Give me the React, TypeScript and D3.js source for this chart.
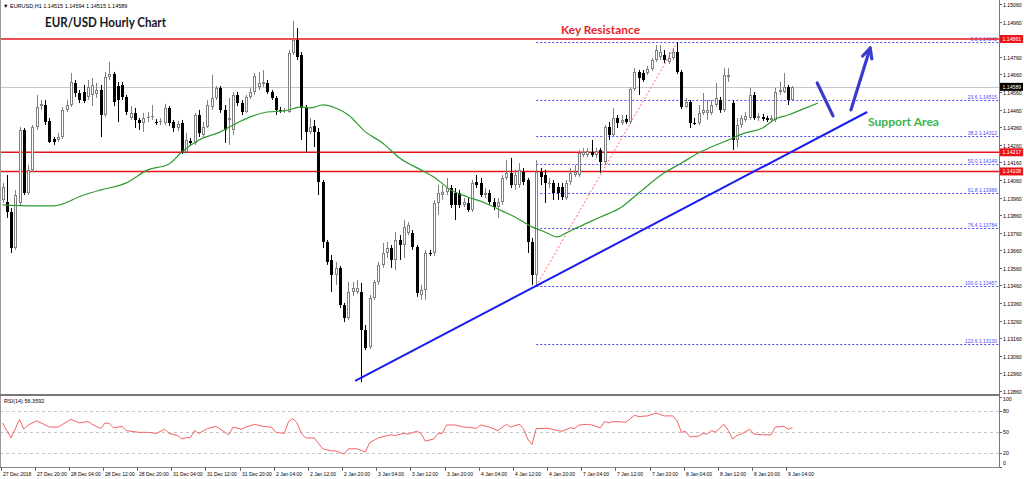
import React from "react";
import * as d3 from "d3";

const W = 1024;
const H = 479;

// ---------- candle data (EURUSD H1, bar 0 = 27 Dec 2018 12:00) ----------
const candleOpen = [
  1.13946,1.13935,1.13878,1.13673,1.13929,1.14344,1.13986,1.14117,1.14361,1.14480,
  1.14486,1.14395,1.14293,1.14287,1.14304,1.14458,1.14486,1.14611,1.14554,1.14560,
  1.14532,1.14543,1.14549,1.14571,1.14429,1.14645,1.14662,1.14594,1.14600,1.14532,
  1.14412,1.14441,1.14401,1.14384,1.14412,1.14418,1.14389,1.14389,1.14384,1.14469,
  1.14389,1.14355,1.14384,1.14219,1.14281,1.14270,1.14429,1.14316,1.14361,1.14475,
  1.14526,1.14583,1.14458,1.14401,1.14344,1.14543,1.14497,1.14446,1.14532,1.14560,
  1.14588,1.14605,1.14611,1.14560,1.14526,1.14458,1.14452,1.14446,1.14782,1.14856,
  1.14770,1.14469,1.14333,1.14367,1.14333,1.14048,1.13707,1.13605,1.13520,1.13560,
  1.13349,1.13275,1.13423,1.13423,1.13423,1.13207,1.13110,1.13389,1.13480,1.13577,
  1.13645,1.13673,1.13605,1.13719,1.13690,1.13758,1.13758,1.13679,1.13406,1.13434,
  1.13645,1.13645,1.13929,1.13974,1.13992,1.14014,1.13986,1.13986,1.13918,1.13929,
  1.13889,1.14048,1.14043,1.13974,1.13986,1.13935,1.13906,1.13935,1.14071,1.14100,
  1.14031,1.14031,1.14105,1.14060,1.13707,1.13520,1.14105,1.14088,1.14037,1.14043,
  1.14020,1.14020,1.13957,1.14048,1.14088,1.14088,1.14202,1.14202,1.14219,1.14202,
  1.14230,1.14162,1.14361,1.14316,1.14412,1.14384,1.14406,1.14389,1.14577,1.14674,
  1.14668,1.14668,1.14691,1.14742,1.14759,1.14770,1.14731,1.14753,1.14787,1.14674,
  1.14475,1.14503,1.14384,1.14384,1.14441,1.14441,1.14441,1.14486,1.14514,1.14458,
  1.14645,1.14497,1.14287,1.14372,1.14401,1.14412,1.14543,1.14412,1.14418,1.14412,
  1.14401,1.14401,1.14560,1.14560,1.14588,1.14515,
];
const candleHigh = [
  1.14043,1.14088,1.13901,1.14003,1.14361,1.14355,1.14145,1.14372,1.14543,1.14514,
  1.14514,1.14412,1.14304,1.14327,1.14475,1.14514,1.14668,1.14628,1.14571,1.14600,
  1.14628,1.14640,1.14611,1.14600,1.14674,1.14731,1.14674,1.14617,1.14617,1.14543,
  1.14480,1.14469,1.14412,1.14441,1.14446,1.14486,1.14406,1.14412,1.14492,1.14480,
  1.14401,1.14395,1.14401,1.14327,1.14298,1.14441,1.14458,1.14389,1.14514,1.14657,
  1.14594,1.14594,1.14486,1.14526,1.14560,1.14560,1.14514,1.14543,1.14583,1.14668,
  1.14674,1.14685,1.14628,1.14571,1.14537,1.14475,1.14469,1.14799,1.14964,1.14924,
  1.14787,1.14486,1.14412,1.14401,1.14355,1.14060,1.13719,1.13633,1.13594,1.13571,
  1.13361,1.13480,1.13480,1.13491,1.13474,1.13235,1.13406,1.13491,1.13594,1.13702,
  1.13707,1.13690,1.13764,1.13747,1.13832,1.13821,1.13775,1.13690,1.13463,1.13662,
  1.13662,1.13946,1.14031,1.14031,1.14071,1.14031,1.14014,1.14003,1.13957,1.13957,
  1.14060,1.14088,1.14071,1.14014,1.14003,1.13957,1.13957,1.14088,1.14173,1.14185,
  1.14117,1.14156,1.14128,1.14071,1.13730,1.14173,1.14128,1.14117,1.14071,1.14060,
  1.14043,1.14043,1.14060,1.14128,1.14145,1.14230,1.14242,1.14242,1.14287,1.14242,
  1.14242,1.14372,1.14389,1.14469,1.14429,1.14429,1.14429,1.14588,1.14696,1.14685,
  1.14685,1.14708,1.14753,1.14827,1.14827,1.14799,1.14787,1.14810,1.14842,1.14685,
  1.14526,1.14514,1.14412,1.14486,1.14554,1.14514,1.14514,1.14611,1.14532,1.14696,
  1.14696,1.14514,1.14412,1.14429,1.14446,1.14583,1.14560,1.14441,1.14435,1.14424,
  1.14429,1.14583,1.14617,1.14668,1.14600,1.14594,
];
const candleLow = [
  1.13929,1.13844,1.13645,1.13662,1.13918,1.13974,1.13974,1.14105,1.14344,1.14458,
  1.14372,1.14270,1.14259,1.14276,1.14293,1.14446,1.14475,1.14532,1.14497,1.14497,
  1.14514,1.14480,1.14526,1.14304,1.14418,1.14628,1.14480,1.14389,1.14514,1.14429,
  1.14401,1.14355,1.14344,1.14333,1.14389,1.14401,1.14372,1.14372,1.14372,1.14367,
  1.14333,1.14338,1.14208,1.14213,1.14259,1.14259,1.14304,1.14304,1.14355,1.14458,
  1.14514,1.14441,1.14270,1.14259,1.14316,1.14480,1.14429,1.14441,1.14520,1.14543,
  1.14571,1.14588,1.14549,1.14514,1.14429,1.14441,1.14441,1.14441,1.14770,1.14742,
  1.14287,1.14219,1.14321,1.14247,1.13974,1.13673,1.13577,1.13423,1.13463,1.13332,
  1.13252,1.13264,1.13400,1.13412,1.12911,1.13093,1.13099,1.13378,1.13463,1.13560,
  1.13616,1.13560,1.13548,1.13605,1.13616,1.13747,1.13662,1.13395,1.13378,1.13378,
  1.13628,1.13628,1.13861,1.13946,1.13974,1.13901,1.13832,1.13901,1.13906,1.13878,
  1.13878,1.14014,1.13963,1.13957,1.13918,1.13889,1.13844,1.13918,1.14060,1.14014,
  1.14003,1.14014,1.14031,1.13645,1.13463,1.13457,1.14031,1.13929,1.14014,1.13946,
  1.13946,1.13946,1.13946,1.14031,1.14077,1.14077,1.14190,1.14190,1.14190,1.14185,
  1.14100,1.14145,1.14287,1.14304,1.14355,1.14372,1.14378,1.14378,1.14566,1.14543,
  1.14617,1.14657,1.14679,1.14731,1.14742,1.14725,1.14719,1.14742,1.14662,1.14463,
  1.14469,1.14355,1.14372,1.14372,1.14429,1.14401,1.14429,1.14475,1.14441,1.14446,
  1.14617,1.14230,1.14247,1.14355,1.14389,1.14401,1.14401,1.14395,1.14395,1.14389,
  1.14389,1.14389,1.14543,1.14554,1.14486,1.14515,
];
const candleClose = [
  1.14020,1.13878,1.13673,1.13974,1.14344,1.13986,1.14117,1.14361,1.14475,1.14492,
  1.14389,1.14276,1.14276,1.14304,1.14458,1.14486,1.14617,1.14554,1.14514,1.14509,
  1.14588,1.14600,1.14571,1.14429,1.14645,1.14662,1.14503,1.14514,1.14532,1.14446,
  1.14441,1.14401,1.14384,1.14412,1.14415,1.14421,1.14386,1.14395,1.14469,1.14384,
  1.14355,1.14378,1.14219,1.14287,1.14270,1.14429,1.14327,1.14361,1.14486,1.14526,
  1.14583,1.14458,1.14344,1.14412,1.14543,1.14497,1.14446,1.14532,1.14560,1.14651,
  1.14611,1.14617,1.14560,1.14526,1.14458,1.14452,1.14458,1.14782,1.14856,1.14759,
  1.14469,1.14333,1.14361,1.14333,1.14048,1.13707,1.13594,1.13520,1.13560,1.13349,
  1.13275,1.13423,1.13446,1.13446,1.13207,1.13105,1.13389,1.13480,1.13577,1.13645,
  1.13673,1.13605,1.13719,1.13690,1.13793,1.13804,1.13679,1.13417,1.13434,1.13645,
  1.13640,1.13929,1.13986,1.13992,1.14014,1.13918,1.13918,1.13918,1.13935,1.13889,
  1.14043,1.14031,1.13974,1.13986,1.13935,1.13906,1.13935,1.14071,1.14100,1.14031,
  1.14088,1.14117,1.14048,1.13707,1.13520,1.14105,1.14077,1.14043,1.14043,1.13986,
  1.13986,1.13963,1.14043,1.14100,1.14105,1.14213,1.14219,1.14225,1.14202,1.14225,
  1.14162,1.14361,1.14316,1.14412,1.14384,1.14401,1.14389,1.14577,1.14674,1.14640,
  1.14628,1.14691,1.14742,1.14799,1.14787,1.14742,1.14753,1.14787,1.14674,1.14475,
  1.14503,1.14384,1.14381,1.14441,1.14458,1.14458,1.14486,1.14526,1.14458,1.14657,
  1.14657,1.14287,1.14372,1.14412,1.14424,1.14543,1.14412,1.14424,1.14406,1.14401,
  1.14412,1.14560,1.14571,1.14588,1.14514,1.14589,
];

// ---------- moving average (green), read at sampled bars ----------
const maIndex = [0,7,12,19,23,29,34,39,42,46,51,54,58,62,66,70,72,75,78,81,85,89,93,98,101,105,109,113,117,120,124,127,130,132,135,140,145,149,155,159,163,166,170,174,178,181,184,187,191];
const maValue = [1.13918,1.13912,1.13912,1.13974,1.14003,1.14043,1.14117,1.14151,1.14219,1.14287,1.14333,1.14372,1.14418,1.14446,1.14452,1.14475,1.14469,1.14486,1.14469,1.14429,1.14333,1.14270,1.14185,1.14117,1.14077,1.14003,1.13963,1.13929,1.13884,1.13849,1.13793,1.13764,1.13736,1.13758,1.13793,1.13849,1.13906,1.13986,1.14100,1.14156,1.14213,1.14247,1.14287,1.14327,1.14355,1.14406,1.14429,1.14458,1.14497];

// ---------- RSI(14), read at sampled bars ----------
const rsiIndex = [0,2,4,5,6,8,11,13,16,18,20,21,23,24,25,26,28,29,32,34,36,38,39,41,42,43,44,45,46,48,50,53,54,56,57,59,61,63,64,66,67,68,69,70,71,73,75,77,78,80,81,83,85,86,88,91,92,94,95,97,98,99,101,102,103,104,106,108,109,111,112,114,116,118,119,121,122,123,124,125,128,130,131,133,134,135,137,138,140,141,142,143,146,148,149,151,153,155,157,158,159,160,161,163,164,165,166,167,169,170,171,172,173,175,176,178,180,181,183,184,185];
const rsiValue = [63,41.5,68,54,60,66,57,57,68,63,65,61,55,63,62,56,58,52,49.5,49.5,48,54,48,45,40,42,42,52,48,55,58,46,57,54,57,61,58,57,49.5,48,65,69,63,48,41.5,41.5,26,23,23,18.5,26,26,21.5,35,41.5,46,45,48,47,51,48,37,40,48,48,60,60,57,57,55,60,57,52,61,57,61,55,40,32,55,55,52,51,56,55,60,61,60,56,65,63,65,64,74,72,73,77,73,73,66,49.5,51,43,44,48,47,52,50,61,52,40,45,47,54,47,46,46,57,58,54,56.36];
const rsiLevels = [80, 50, 20];
const rsiAxisLabels = ["100", "80", "50", "20", "0"];

// ---------- axes ----------
const xTickIndex = [0,8,16,24,32,40,48,56,64,72,80,88,96,104,112,120,128,136,144,152,160,168,176,184];
const xTickLabels = ["27 Dec 2018","27 Dec 20:00","28 Dec 04:00","28 Dec 12:00","28 Dec 20:00","31 Dec 04:00","31 Dec 12:00","31 Dec 20:00","2 Jan 04:00","2 Jan 12:00","2 Jan 20:00","3 Jan 04:00","3 Jan 12:00","3 Jan 20:00","4 Jan 04:00","4 Jan 12:00","4 Jan 20:00","7 Jan 04:00","7 Jan 12:00","7 Jan 20:00","8 Jan 04:00","8 Jan 12:00","8 Jan 20:00","9 Jan 04:00"];
const priceTickLabels = ["1.15060","1.14960","1.14860","1.14760","1.14660","1.14560","1.14460","1.14360","1.14260","1.14160","1.14060","1.13960","1.13860","1.13760","1.13660","1.13560","1.13460","1.13360","1.13260","1.13160","1.13060","1.12960","1.12860"];

// ---------- annotations ----------
const redLevels = [1.14861, 1.14217, 1.14108];
const bidPrice = 1.14589;
const fibPercent = ["0.0","23.6","38.2","50.0","61.8","76.4","100.0","123.6"];
const fibPrice = [1.14842,1.14515,1.14312,1.14149,1.13986,1.13784,1.13457,1.13130];
const fibStartIndex = 125;
const fibSwing = [[125, 1.13457], [158, 1.14842]];
const trendLine = [[82.6, 1.12917], [202.5, 1.14446]];
const downStroke = [[190.8, 1.14611], [194.5, 1.14424]];
const upArrow = [[198.7, 1.14458], [203.2, 1.14810]];
const headerText = "EURUSD,H1  1.14515 1.14594 1.14515 1.14589";
const rsiLabel = "RSI(14) 56.3592";

const AXIS_FONT = "'Liberation Sans', Arial, sans-serif";
const TITLE_FONT = "Lato, 'Open Sans', sans-serif";

export default function App() {
  const plotRight = 999;
  const x = d3.scaleLinear().domain([0, 185]).range([2.5, 2.5 + 185 * 4.27]);
  const y = d3.scaleLinear().domain([1.1286, 1.1506]).range([391, 4]);
  const ry = d3.scaleLinear().domain([0, 100]).range([467, 397]);

  const candles = candleOpen.map((o, i) => ({ o, h: candleHigh[i], l: candleLow[i], c: candleClose[i], i }));

  const maLine = d3
    .line<number>()
    .x((_, k) => x(maIndex[k]))
    .y((v) => y(v))
    .curve(d3.curveMonotoneX)(maValue);

  const rsiLine = d3
    .line<number>()
    .x((_, k) => x(rsiIndex[k]))
    .y((v) => ry(v))(rsiValue);

  const pt = (p: number[]) => [x(p[0]), y(p[1])];
  const [ax1, ay1] = pt(upArrow[0]);
  const [ax2, ay2] = pt(upArrow[1]);
  const ang = Math.atan2(ay2 - ay1, ax2 - ax1);
  const headLen = 11;
  const headSpread = 0.45;
  const hL = [ax2 - headLen * Math.cos(ang - headSpread), ay2 - headLen * Math.sin(ang - headSpread)];
  const hR = [ax2 - headLen * Math.cos(ang + headSpread), ay2 - headLen * Math.sin(ang + headSpread)];

  const fibBlue = "#4a4aff";

  return (
    <svg
      width={W}
      height={H}
      viewBox={`0 0 ${W} ${H}`}
      style={{ position: "absolute", left: 0, top: 0, background: "#fff", display: "block" }}
    >
      <defs>
        <clipPath id="mainClip">
          <rect x={0} y={0} width={plotRight} height={394} />
        </clipPath>
        <clipPath id="rsiClip">
          <rect x={0} y={396} width={plotRight} height={71} />
        </clipPath>
      </defs>
      <rect x={0} y={0} width={W} height={H} fill="#fff" />

      <g clipPath="url(#mainClip)">
        {/* bid line */}
        <line x1={0} x2={plotRight} y1={Math.round(y(bidPrice)) + 0.5} y2={Math.round(y(bidPrice)) + 0.5} stroke="#c8c8c8" strokeWidth={1} />

        {/* fib levels */}
        {fibPrice.map((p, k) => {
          const yy = Math.round(y(p)) + 0.5;
          return (
            <g key={"fib" + k}>
              <line x1={x(fibStartIndex)} x2={plotRight} y1={yy} y2={yy} stroke={fibBlue} strokeWidth={1} strokeDasharray="2,2" />
              <text x={997} y={yy - 1.5} textAnchor="end" fontFamily={AXIS_FONT} fontSize={5} fill={fibBlue}>
                {fibPercent[k] + " " + p.toFixed(5)}
              </text>
            </g>
          );
        })}

        {/* red horizontal levels */}
        {redLevels.map((p, k) => (
          <line key={"red" + k} x1={0} x2={plotRight} y1={y(p)} y2={y(p)} stroke="#e8141c" strokeWidth={1.4} />
        ))}

        {/* fib swing line */}
        <line x1={pt(fibSwing[0])[0]} y1={pt(fibSwing[0])[1]} x2={pt(fibSwing[1])[0]} y2={pt(fibSwing[1])[1]} stroke="#ff6a6a" strokeWidth={1} strokeDasharray="2,2" />

        {/* candles */}
        {candles.map((d) => {
          const cx = Math.round(x(d.i)) + 0.5;
          const bull = d.c >= d.o;
          const col = bull ? "#808080" : "#000";
          const yTop = y(Math.max(d.o, d.c));
          const yBot = y(Math.min(d.o, d.c));
          const top = Math.round(yTop);
          const hgt = Math.max(1, Math.round(yBot) - top);
          return (
            <g key={"c" + d.i}>
              <line x1={cx} x2={cx} y1={y(d.h)} y2={y(d.l)} stroke={col} strokeWidth={1} />
              <rect x={cx - 1.5} y={top} width={3} height={hgt} fill={col} />
              {bull && hgt > 2 ? <rect x={cx - 0.5} y={top + 1} width={1} height={hgt - 2} fill="#fff" /> : null}
            </g>
          );
        })}

        {/* moving average */}
        <path d={maLine || ""} fill="none" stroke="#2e9a2e" strokeWidth={1.2} />

        {/* trend line */}
        <line x1={pt(trendLine[0])[0]} y1={pt(trendLine[0])[1]} x2={pt(trendLine[1])[0]} y2={pt(trendLine[1])[1]} stroke="#1c1cf0" strokeWidth={2} />

        {/* arrows */}
        <line x1={pt(downStroke[0])[0]} y1={pt(downStroke[0])[1]} x2={pt(downStroke[1])[0]} y2={pt(downStroke[1])[1]} stroke="#3a3ad0" strokeWidth={3.2} strokeLinecap="round" />
        <line x1={ax1} y1={ay1} x2={ax2} y2={ay2} stroke="#3a3ad0" strokeWidth={3.2} strokeLinecap="round" />
        <polyline points={`${hL[0]},${hL[1]} ${ax2},${ay2} ${hR[0]},${hR[1]}`} fill="none" stroke="#3a3ad0" strokeWidth={3.2} strokeLinecap="round" strokeLinejoin="round" />
      </g>

      {/* texts */}
      <text x={3} y={7.5} fontFamily={AXIS_FONT} fontSize={5.5} fill="#000">{"\u25BC " + headerText}</text>
      <text x={45} y={27} fontFamily={TITLE_FONT} fontWeight={700} fontSize={13} fill="#16161e" textLength={121} lengthAdjust="spacingAndGlyphs">EUR/USD Hourly Chart</text>
      <text x={561} y={34} fontFamily={TITLE_FONT} fontWeight={700} fontSize={11.5} fill="#e8262b" textLength={79} lengthAdjust="spacingAndGlyphs">Key Resistance</text>
      <text x={868} y={126} fontFamily={TITLE_FONT} fontWeight={700} fontSize={11.5} fill="#3cb44b" textLength={71} lengthAdjust="spacingAndGlyphs">Support Area</text>

      {/* RSI panel */}
      <g>
        {rsiLevels.map((lv) => (
          <line key={"lv" + lv} x1={0} x2={plotRight} y1={Math.round(ry(lv)) + 0.5} y2={Math.round(ry(lv)) + 0.5} stroke="#c4c4c4" strokeWidth={1} strokeDasharray="3,3" />
        ))}
        <g clipPath="url(#rsiClip)">
          <path d={rsiLine || ""} fill="none" stroke="#f26464" strokeWidth={1} />
        </g>
        <text x={4} y={403} fontFamily={AXIS_FONT} fontSize={5.5} fill="#000">{rsiLabel}</text>
        {rsiAxisLabels.map((lb) => {
          const v = +lb;
          const yy = Math.min(464.5, Math.max(400.5, ry(v) + 2));
          return (
            <g key={"ra" + lb}>
              <line x1={plotRight} x2={plotRight + 3} y1={Math.round(ry(v)) + 0.5} y2={Math.round(ry(v)) + 0.5} stroke="#666" />
              <text x={1003} y={yy} fontFamily={AXIS_FONT} fontSize={5.2} fill="#000">{lb}</text>
            </g>
          );
        })}
      </g>

      {/* frames */}
      <line x1={0.5} x2={0.5} y1={0} y2={468} stroke="#9a9a9a" />
      <line x1={plotRight + 0.5} x2={plotRight + 0.5} y1={0} y2={468} stroke="#777" />
      <rect x={0} y={394} width={plotRight + 1} height={2} fill="#777" />
      <line x1={0} x2={plotRight + 1} y1={467.5} y2={467.5} stroke="#888" />

      {/* price axis */}
      {priceTickLabels.map((lb) => {
        const yy = Math.round(y(+lb)) + 0.5;
        return (
          <g key={"pt" + lb}>
            <line x1={plotRight} x2={plotRight + 3} y1={yy} y2={yy} stroke="#666" />
            <text x={1003} y={yy + 2} fontFamily={AXIS_FONT} fontSize={5.2} fill="#000">{lb}</text>
          </g>
        );
      })}
      {redLevels.map((p, k) => (
        <g key={"rl" + k}>
          <rect x={plotRight + 1} y={y(p) - 4} width={23} height={8} fill="#e8141c" />
          <text x={1002.5} y={y(p) + 2} fontFamily={AXIS_FONT} fontSize={5.2} fill="#fff">{p.toFixed(5)}</text>
        </g>
      ))}
      <rect x={plotRight + 1} y={y(bidPrice) - 4} width={23} height={8} fill="#000" />
      <text x={1002.5} y={y(bidPrice) + 2} fontFamily={AXIS_FONT} fontSize={5.2} fill="#fff">{bidPrice.toFixed(5)}</text>

      {/* time axis */}
      {xTickIndex.map((idx, k) => {
        const xx = Math.round(x(idx)) - 1.5;
        return (
          <g key={"xt" + k}>
            <line x1={xx} x2={xx} y1={467} y2={471} stroke="#666" />
            <text x={xx + 1.5} y={476} fontFamily={AXIS_FONT} fontSize={5} fill="#000">{xTickLabels[k]}</text>
          </g>
        );
      })}
    </svg>
  );
}
